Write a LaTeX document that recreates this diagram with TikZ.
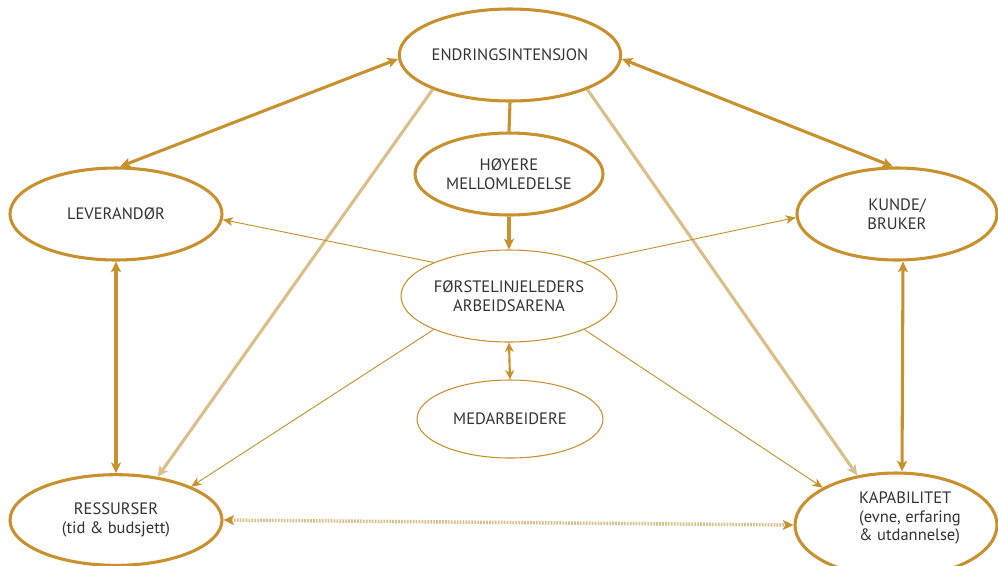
\documentclass[tikz,border=0pt]{standalone}
\usepackage{fontspec}
\setmainfont{PT Sans}
\usetikzlibrary{shapes.geometric,arrows.meta}
\definecolor{gold}{HTML}{C8912E}
\definecolor{lightgold}{HTML}{DBBF8B}
\definecolor{txt}{HTML}{333333}
\begin{document}
\begin{tikzpicture}[x=0.75pt,y=-0.75pt,
  lbl/.style={text=txt, align=center, font=\fontsize{12.4}{14}\selectfont},
  bigell/.style={ellipse, draw=gold, line width=2.3pt, fill=white, inner sep=0pt, lbl},
  thinell/.style={ellipse, draw=gold, line width=0.8pt, fill=white, inner sep=0pt, lbl},
  thick/.style={draw=gold, line width=2.3pt},
  pale/.style={draw=lightgold, line width=2.3pt},
  fine/.style={draw=gold, line width=0.7pt},
  tipbig/.style={-{Stealth[length=8pt,width=7.5pt,inset=2pt]}},
  tipboth/.style={{Stealth[length=8pt,width=7.5pt,inset=2pt]}-{Stealth[length=8pt,width=7.5pt,inset=2pt]}},
  tipfine/.style={-{Stealth[length=7.5pt,width=6.5pt,inset=2pt]}},
]
\useasboundingbox (0,0) rectangle (998,565);
\fill[white] (0,0) rectangle (998,565);

\node[bigell, minimum width=160.5pt, minimum height=69pt] (E) at (510,55) {ENDRINGSINTENSJON};
\node[bigell, minimum width=141pt, minimum height=61.5pt] (H) at (509,174) {HØYERE\\MELLOMLEDELSE};
\node[thinell, minimum width=162pt, minimum height=69pt] (F) at (509,296) {FØRSTELINJELEDERS\\ARBEIDSARENA};
\node[thinell, minimum width=139.5pt, minimum height=58.5pt] (M) at (510,419) {MEDARBEIDERE};
\node[bigell, minimum width=159pt, minimum height=69pt] (L) at (116,214) {LEVERANDØR};
\node[bigell, minimum width=150pt, minimum height=69pt] (K) at (897,214) {KUNDE/\\BRUKER};
\node[bigell, minimum width=159pt, minimum height=68pt] (R) at (116,520) {RESSURSER\\(tid \& budsjett)};
\node[bigell, minimum width=151.5pt, minimum height=78pt] (C) at (896,525) {};
\node[lbl, align=left] (Ct) at (910,518) {KAPABILITET\\(evne, erfaring\\\& utdannelse)};

% thick connectors
\draw[thick] (E.south) -- (H.north);
\draw[thick, tipbig] (H.south) -- (F.north);
\draw[thick, tipboth] (E.182) -- (L.85);
\draw[thick, tipboth] (E.-2) -- (K.95);
\draw[thick, tipboth] (L.south) -- (R.north);
\draw[thick, tipboth] ([xshift=4.5pt]K.south) -- ([xshift=4.5pt]C.north);
\draw[draw=gold, line width=1.6pt, {Stealth[length=7pt,width=6.5pt,inset=2pt]}-{Stealth[length=7pt,width=6.5pt,inset=2pt]}] (F.south) -- (M.north);

% pale connectors
\draw[pale, tipbig] (E.204) -- (R.46);
\draw[pale, tipbig] (E.-24) -- (C.128);
\draw[draw=lightgold, line width=2.6pt, dash pattern=on 1.3pt off 0.9pt,
  {Stealth[length=8pt,width=7.5pt,inset=2pt,color=gold]}-{Stealth[length=8pt,width=7.5pt,inset=2pt,color=gold]}] (R.east) -- (C.west);

% fine connectors
\draw[fine, tipfine] (F.156) -- (L.-3);
\draw[fine, tipfine] (F.24) -- (K.182);
\draw[fine, tipfine] (F.204) -- (R.24);
\draw[fine, tipfine] (F.-24) -- (C.153);
\end{tikzpicture}
\end{document}
